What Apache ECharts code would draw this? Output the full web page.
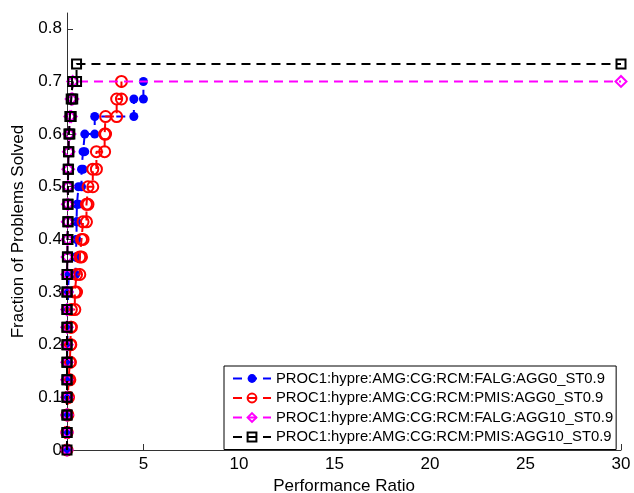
<!DOCTYPE html>
<html>
<head>
<meta charset="utf-8">
<script src="https://cdn.jsdelivr.net/npm/echarts@6/dist/echarts.min.js"></script>
<style>
html, body { margin: 0; padding: 0; background: #fff; }
#main { width: 634px; height: 493px; }
</style>
</head>
<body>
<div id="main"></div>
<script>
// number of problems in the profile
var nProblems = 30;
var xTicks = [5, 10, 15, 20, 25, 30];

var names = [
    'PROC1:hypre:AMG:CG:RCM:FALG:AGG0_ST0.9',
    'PROC1:hypre:AMG:CG:RCM:PMIS:AGG0_ST0.9',
    'PROC1:hypre:AMG:CG:RCM:FALG:AGG10_ST0.9',
    'PROC1:hypre:AMG:CG:RCM:PMIS:AGG10_ST0.9'
];
// sorted performance ratios of the solved problems
var ratioFalgAgg0 = [1.0, 1.0, 1.0, 1.0, 1.0, 1.02, 1.03, 1.05, 1.05, 1.1, 1.45, 1.5, 1.5, 1.52, 1.6, 1.76, 1.84, 1.93, 2.45, 4.5, 5.0];
var ratioPmisAgg0 = [1.0, 1.0, 1.05, 1.08, 1.15, 1.18, 1.2, 1.23, 1.41, 1.5, 1.67, 1.76, 1.84, 2.02, 2.1, 2.35, 2.54, 2.97, 3.02, 3.6, 3.85];
var ratioFalgAgg10 = [1.0, 1.0, 1.0, 1.0, 1.0, 1.0, 1.0, 1.0, 1.0, 1.0, 1.02, 1.02, 1.03, 1.03, 1.05, 1.05, 1.08, 1.1, 1.15, 1.22, 1.3];
var ratioPmisAgg10 = [1.0, 1.0, 1.0, 1.0, 1.0, 1.0, 1.0, 1.0, 1.0, 1.0, 1.02, 1.03, 1.05, 1.05, 1.05, 1.06, 1.08, 1.1, 1.15, 1.22, 1.3, 1.5];
// where the flat tail ends (null = no tail)
var tailEnd = [null, null, 30, 30];

var colors = ['#0000ff', '#ff0000', '#ff00ff', '#000000'];
var symbols = ['circle', 'circle', 'diamond', 'rect'];

// stair vertices: step up at each ratio
function stairs(r, xEnd) {
    var pts = [];
    for (var i = 0; i < r.length; i++) {
        pts.push([r[i], i / nProblems]);
        pts.push([r[i], (i + 1) / nProblems]);
    }
    if (xEnd) {
        pts.push([xEnd, r.length / nProblems]);
    }
    return pts;
}

var ratios = [ratioFalgAgg0, ratioPmisAgg0, ratioFalgAgg10, ratioPmisAgg10];
var series = [];
for (var s = 0; s < 4; s++) {
    var filled = (s === 0);
    series.push({
        name: names[s],
        type: 'line',
        data: stairs(ratios[s], tailEnd[s]),
        symbol: symbols[s],
        symbolSize: s === 0 ? 9 : (s === 3 ? 9 : 11),
        showAllSymbol: true,
        animation: false,
        z: 2 + s,
        lineStyle: { color: colors[s], width: 2, type: [9, 6] },
        itemStyle: {
            color: filled ? colors[s] : 'rgba(255,255,255,0)',
            borderColor: colors[s],
            borderWidth: filled ? 0 : 2
        }
    });
}

var font = 'Liberation Sans, Arial, sans-serif';
var myChart = echarts.init(document.getElementById('main'));
myChart.setOption({
    backgroundColor: '#fff',
    animation: false,
    grid: { left: 67, right: 13, top: 13, bottom: 43, outerBoundsMode: 'none' },
    legend: {
        orient: 'vertical',
        left: 224,
        top: 366,
        padding: [5, 3, 5, 8],
        itemGap: 4.5,
        itemWidth: 38,
        itemHeight: 11,
        backgroundColor: '#fff',
        borderColor: '#000',
        borderWidth: 1,
        textStyle: { fontFamily: font, fontSize: 14.8, color: '#000' },
        data: names
    },
    xAxis: {
        type: 'value',
        min: 1,
        max: 30,
        name: 'Performance Ratio',
        nameLocation: 'middle',
        nameGap: 26,
        nameTextStyle: { fontFamily: font, fontSize: 17, color: '#000' },
        axisLine: { lineStyle: { color: '#333', width: 1 } },
        axisTick: { inside: true, length: 6, customValues: xTicks, lineStyle: { color: '#333' } },
        axisLabel: { customValues: xTicks, fontFamily: font, fontSize: 17, color: '#000', margin: 6 },
        splitLine: { show: false }
    },
    yAxis: {
        type: 'value',
        min: 0,
        max: 0.83,
        interval: 0.1,
        name: 'Fraction of Problems Solved',
        nameLocation: 'middle',
        nameGap: 40,
        nameTextStyle: { fontFamily: font, fontSize: 17, color: '#000' },
        axisLine: { show: true, lineStyle: { color: '#333', width: 1 } },
        axisTick: { show: true, inside: true, length: 6, lineStyle: { color: '#333' } },
        axisLabel: { fontFamily: font, fontSize: 17, color: '#000', margin: 5, showMaxLabel: false },
        splitLine: { show: false }
    },
    series: series
});
</script>
</body>
</html>
